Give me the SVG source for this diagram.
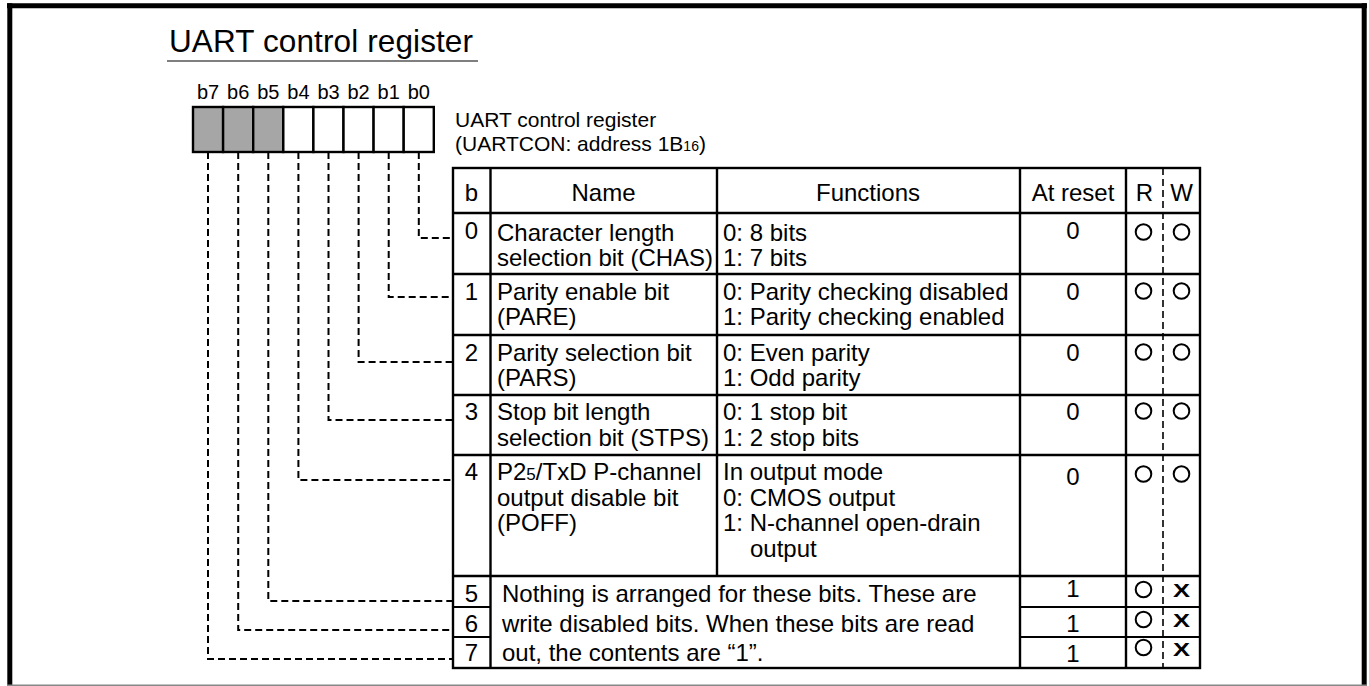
<svg xmlns="http://www.w3.org/2000/svg" width="1369" height="686" viewBox="0 0 1369 686">
  <style>
    text { font-family: "Liberation Sans", Arial, sans-serif; fill: #000; }
    .t { font-size: 24px; }
    .c { text-anchor: middle; }
    .bl { font-size: 20px; text-anchor: middle; }
    .sm { font-size: 21px; }
    .grid { stroke: #000; stroke-width: 2.4; fill: none; }
    .thin { stroke: #000; stroke-width: 1.8; fill: none; }
    .dash { stroke: #000; stroke-width: 2; fill: none; stroke-dasharray: 7 4; }
    .rwdash { stroke: #000; stroke-width: 1.6; fill: none; stroke-dasharray: 7 4; }
    .cell { stroke: #000; stroke-width: 2.4; }
    .off { fill: #a6a6a6; }
    .on { fill: #fff; }
    .ok { fill: none; stroke: #000; stroke-width: 2; }
    .x { font-size: 18px; font-weight: bold; }
  </style>

  <!-- page frame -->
  <g id="frame">
    <rect x="0" y="0" width="1369" height="686" fill="#fff"/>
    <line x1="7" y1="5.8" x2="1367" y2="5.8" stroke="#000" stroke-width="5"/>
    <line x1="9.8" y1="3.3" x2="9.8" y2="686" stroke="#000" stroke-width="5"/>
    <line x1="1364.2" y1="3.3" x2="1364.2" y2="686" stroke="#000" stroke-width="5"/>
    <line x1="7" y1="685.2" x2="1367" y2="685.2" stroke="#888" stroke-width="1.6"/>
  </g>

  <!-- heading -->
  <g id="title">
    <text x="169" y="52" style="font-size:31.5px" textLength="304" lengthAdjust="spacing">UART control register</text>
    <line x1="167" y1="61" x2="478" y2="61" stroke="#555" stroke-width="1.6"/>
  </g>

  <!-- register bit boxes b7..b0 -->
  <g id="register">
    <g class="cell">
      <rect class="off" x="193" y="107" width="30.1" height="45"/>
      <rect class="off" x="223.1" y="107" width="30.1" height="45"/>
      <rect class="off" x="253.2" y="107" width="30.1" height="45"/>
      <rect class="on" x="283.3" y="107" width="30.1" height="45"/>
      <rect class="on" x="313.4" y="107" width="30.1" height="45"/>
      <rect class="on" x="343.5" y="107" width="30.1" height="45"/>
      <rect class="on" x="373.6" y="107" width="30.1" height="45"/>
      <rect class="on" x="403.7" y="107" width="30.1" height="45"/>
    </g>
    <text class="bl" x="208" y="99">b7</text>
    <text class="bl" x="238.2" y="99">b6</text>
    <text class="bl" x="268.3" y="99">b5</text>
    <text class="bl" x="298.4" y="99">b4</text>
    <text class="bl" x="328.5" y="99">b3</text>
    <text class="bl" x="358.6" y="99">b2</text>
    <text class="bl" x="388.7" y="99">b1</text>
    <text class="bl" x="418.8" y="99">b0</text>
    <text class="sm" x="455" y="127">UART control register</text>
    <text class="sm" x="455" y="151">(UARTCON: address 1B<tspan style="font-size:14px">16</tspan>)</text>
  </g>

  <!-- dashed leaders from each bit to its table row -->
  <g id="connectors" class="dash">
    <polyline points="418.8,152 418.8,238 453,238"/>
    <polyline points="388.7,152 388.7,297 453,297"/>
    <polyline points="358.6,152 358.6,362 453,362"/>
    <polyline points="328.5,152 328.5,420 453,420"/>
    <polyline points="298.4,152 298.4,480 453,480"/>
    <polyline points="268.3,152 268.3,601 453,601"/>
    <polyline points="238.2,152 238.2,630 453,630"/>
    <polyline points="208,152 208,659 453,659"/>
  </g>

  <!-- bit function table -->
  <g id="table">
    <rect class="grid" x="453" y="168" width="747" height="500"/>
    <line class="grid" x1="453" y1="213" x2="1200" y2="213"/>
    <line class="grid" x1="453" y1="274" x2="1200" y2="274"/>
    <line class="grid" x1="453" y1="335" x2="1200" y2="335"/>
    <line class="grid" x1="453" y1="395" x2="1200" y2="395"/>
    <line class="grid" x1="453" y1="455" x2="1200" y2="455"/>
    <line class="grid" x1="453" y1="576" x2="1200" y2="576"/>
    <line class="thin" x1="453" y1="607" x2="490.5" y2="607"/>
    <line class="thin" x1="453" y1="637" x2="490.5" y2="637"/>
    <line class="thin" x1="1020" y1="607" x2="1200" y2="607"/>
    <line class="thin" x1="1020" y1="637" x2="1200" y2="637"/>
    <line class="grid" x1="490.5" y1="168" x2="490.5" y2="668"/>
    <line class="grid" x1="717" y1="168" x2="717" y2="576"/>
    <line class="grid" x1="1020" y1="168" x2="1020" y2="668"/>
    <line class="grid" x1="1126" y1="168" x2="1126" y2="668"/>
    <line class="rwdash" x1="1163" y1="168" x2="1163" y2="668"/>

    <g id="header" class="t c">
      <text x="471.5" y="201">b</text>
      <text x="603.5" y="201">Name</text>
      <text x="868" y="201">Functions</text>
      <text x="1073" y="201">At reset</text>
      <text x="1144.5" y="201">R</text>
      <text x="1181.5" y="201">W</text>
    </g>

    <g id="row-b0" class="t">
      <text class="c" x="471.5" y="239">0</text>
      <text x="497" y="241">Character length</text>
      <text x="497" y="266">selection bit (CHAS)</text>
      <text x="723" y="241">0: 8 bits</text>
      <text x="723" y="266">1: 7 bits</text>
      <text class="c" x="1073" y="239">0</text>
      <circle class="ok" cx="1143.5" cy="232" r="7.8"/>
      <circle class="ok" cx="1181.5" cy="232" r="7.8"/>
    </g>

    <g id="row-b1" class="t">
      <text class="c" x="471.5" y="300">1</text>
      <text x="497" y="300">Parity enable bit</text>
      <text x="497" y="325">(PARE)</text>
      <text x="723" y="300">0: Parity checking disabled</text>
      <text x="723" y="325">1: Parity checking enabled</text>
      <text class="c" x="1073" y="300">0</text>
      <circle class="ok" cx="1143.5" cy="291" r="7.8"/>
      <circle class="ok" cx="1181.5" cy="291" r="7.8"/>
    </g>

    <g id="row-b2" class="t">
      <text class="c" x="471.5" y="361">2</text>
      <text x="497" y="361">Parity selection bit</text>
      <text x="497" y="386">(PARS)</text>
      <text x="723" y="361">0: Even parity</text>
      <text x="723" y="386">1: Odd parity</text>
      <text class="c" x="1073" y="361">0</text>
      <circle class="ok" cx="1143.5" cy="352" r="7.8"/>
      <circle class="ok" cx="1181.5" cy="352" r="7.8"/>
    </g>

    <g id="row-b3" class="t">
      <text class="c" x="471.5" y="420">3</text>
      <text x="497" y="420">Stop bit length</text>
      <text x="497" y="446">selection bit (STPS)</text>
      <text x="723" y="420">0: 1 stop bit</text>
      <text x="723" y="446">1: 2 stop bits</text>
      <text class="c" x="1073" y="420">0</text>
      <circle class="ok" cx="1143.5" cy="411" r="7.8"/>
      <circle class="ok" cx="1181.5" cy="411" r="7.8"/>
    </g>

    <g id="row-b4" class="t">
      <text class="c" x="471.5" y="480">4</text>
      <text x="497" y="480">P2<tspan style="font-size:17px">5</tspan>/TxD P-channel</text>
      <text x="497" y="506">output disable bit</text>
      <text x="497" y="531">(POFF)</text>
      <text x="723" y="480">In output mode</text>
      <text x="723" y="506">0: CMOS output</text>
      <text x="723" y="531">1: N-channel open-drain</text>
      <text x="750" y="557">output</text>
      <text class="c" x="1073" y="485">0</text>
      <circle class="ok" cx="1143.5" cy="474" r="7.8"/>
      <circle class="ok" cx="1181.5" cy="474" r="7.8"/>
    </g>

    <g id="row-b5-b7" class="t">
      <text class="c" x="471.5" y="601.5">5</text>
      <text class="c" x="471.5" y="631.5">6</text>
      <text class="c" x="471.5" y="660.5">7</text>
      <text x="502" y="601.5">Nothing is arranged for these bits. These are</text>
      <text x="502" y="631.5">write disabled bits. When these bits are read</text>
      <text x="502" y="660.5">out, the contents are “1”.</text>
      <text class="c" x="1073" y="597">1</text>
      <text class="c" x="1073" y="632">1</text>
      <text class="c" x="1073" y="662">1</text>
      <circle class="ok" cx="1143.5" cy="589.5" r="7.8"/>
      <circle class="ok" cx="1143.5" cy="619.5" r="7.8"/>
      <circle class="ok" cx="1143.5" cy="647.5" r="7.8"/>
      <text class="x" x="1173" y="596.5" textLength="17" lengthAdjust="spacingAndGlyphs">X</text>
      <text class="x" x="1173" y="626.5" textLength="17" lengthAdjust="spacingAndGlyphs">X</text>
      <text class="x" x="1173" y="655.5" textLength="17" lengthAdjust="spacingAndGlyphs">X</text>
    </g>
  </g>
</svg>
